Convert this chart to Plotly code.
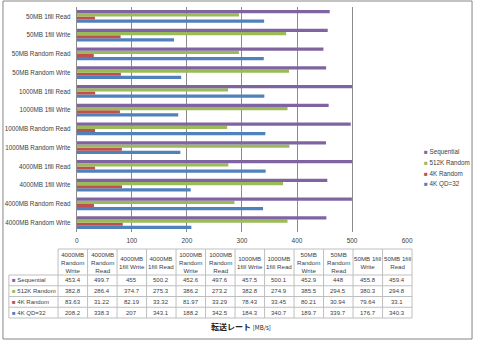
import plotly.graph_objects as go

# Benchmark scenarios, in table order (first one is drawn at the bottom)
categories = [
    "4000MB Random Write", "4000MB Random Read", "4000MB 1fill Write", "4000MB 1fill Read",
    "1000MB Random Write", "1000MB Random Read", "1000MB 1fill Write", "1000MB 1fill Read",
    "50MB Random Write", "50MB Random Read", "50MB 1fill Write", "50MB 1fill Read",
]
header_labels = [
    "4000MB<br>Random<br>Write", "4000MB<br>Random<br>Read", "4000MB<br>1fill Write", "4000MB<br>1fill Read",
    "1000MB<br>Random<br>Write", "1000MB<br>Random<br>Read", "1000MB<br>1fill Write", "1000MB<br>1fill Read",
    "50MB<br>Random<br>Write", "50MB<br>Random<br>Read", "50MB 1fill<br>Write", "50MB 1fill<br>Read",
]

sequential = [453.4, 499.7, 455, 500.2, 452.6, 497.6, 457.5, 500.1, 452.9, 448, 455.8, 459.4]
random_512k = [382.8, 286.4, 374.7, 275.3, 386.2, 273.2, 382.8, 274.9, 385.5, 294.5, 380.3, 294.8]
random_4k = [83.63, 31.22, 82.19, 33.32, 81.97, 33.29, 78.43, 33.45, 80.21, 30.94, 79.64, 33.1]
random_4k_qd32 = [208.2, 338.3, 207, 343.1, 188.2, 342.5, 184.3, 340.7, 189.7, 339.7, 176.7, 340.3]

series_names = ["Sequential", "512K Random", "4K Random", "4K QD=32"]
series_values = [sequential, random_512k, random_4k, random_4k_qd32]
series_colors = ["#8064A2", "#9BBB59", "#C0504D", "#4F81BD"]

x_ticks = [0, 100, 200, 300, 400, 500, 600]

W, H = 480, 341
TEXT = "#404040"
GRID = "#8C8C8C"
FONT = "Liberation Sans"


def px(x):
    return x / W


def py(y):
    return 1 - y / H


fig = go.Figure()

# bars: last series first so Sequential sits on top in every group
for name, vals, col in reversed(list(zip(series_names, series_values, series_colors))):
    fig.add_trace(go.Bar(
        y=categories, x=vals, name=name, orientation="h",
        marker=dict(color=col, line=dict(width=0)),
        showlegend=False,
    ))

fig.update_layout(
    width=W, height=H,
    margin=dict(l=0, r=0, t=0, b=0),
    paper_bgcolor="white", plot_bgcolor="white",
    barmode="group", bargap=0.33, bargroupgap=0,
    font=dict(family=FONT, size=6.3, color=TEXT),
    xaxis=dict(
        domain=[px(76), px(412)], range=[0, 600],
        tickvals=x_ticks, ticktext=[str(t) for t in x_ticks],
        showgrid=True, gridcolor=GRID, gridwidth=1,
        zeroline=False, showline=False,
        ticks="outside", ticklen=2, tickcolor="rgba(0,0,0,0)",
        tickfont=dict(size=6.5, color=TEXT),
    ),
    yaxis=dict(
        domain=[py(232), py(7)],
        type="category", categoryorder="array", categoryarray=categories,
        showgrid=False, zeroline=False,
        showline=True, linecolor=GRID, linewidth=1,
        ticks="outside", ticklen=4, tickcolor="rgba(0,0,0,0)",
        tickfont=dict(size=6.3, color=TEXT),
    ),
)

shapes = []
annotations = []

# outer chart frame
shapes.append(dict(type="rect", xref="paper", yref="paper",
                   x0=px(1), x1=px(478), y0=py(339), y1=py(1),
                   line=dict(color="#868686", width=1)))

# data table under the chart
KEY_X0, COL_X0, COL_W = 7, 57, 30
HEAD_TOP, HEAD_BOT, ROW_H = 249, 275, 10.75
n_cols = len(categories)
table_right = COL_X0 + COL_W * n_cols
table_bottom = HEAD_BOT + ROW_H * len(series_names)
LINE = "#BFBFBF"

shapes.append(dict(type="line", xref="paper", yref="paper",
                   x0=px(COL_X0), x1=px(table_right), y0=py(HEAD_TOP), y1=py(HEAD_TOP),
                   line=dict(color=LINE, width=1)))
for r in range(len(series_names) + 1):
    yy = HEAD_BOT + ROW_H * r
    shapes.append(dict(type="line", xref="paper", yref="paper",
                       x0=px(KEY_X0), x1=px(table_right), y0=py(yy), y1=py(yy),
                       line=dict(color=LINE, width=1)))
shapes.append(dict(type="line", xref="paper", yref="paper",
                   x0=px(KEY_X0), x1=px(KEY_X0), y0=py(HEAD_BOT), y1=py(table_bottom),
                   line=dict(color=LINE, width=1)))
for c in range(n_cols + 1):
    xx = COL_X0 + COL_W * c
    shapes.append(dict(type="line", xref="paper", yref="paper",
                       x0=px(xx), x1=px(xx), y0=py(HEAD_TOP), y1=py(table_bottom),
                       line=dict(color=LINE, width=1)))

for c, lab in enumerate(header_labels):
    annotations.append(dict(
        xref="paper", yref="paper", x=px(COL_X0 + COL_W * (c + 0.5)), y=py((HEAD_TOP + HEAD_BOT) / 2 + 0.5),
        text=lab, showarrow=False, xanchor="center", yanchor="middle",
        font=dict(size=6.2, color=TEXT, family=FONT), align="center",
    ))

for r, (name, vals, col) in enumerate(zip(series_names, series_values, series_colors)):
    yc = HEAD_BOT + ROW_H * (r + 0.5)
    annotations.append(dict(
        xref="paper", yref="paper", x=px(KEY_X0 + 1), y=py(yc),
        text=f"<span style='color:{col}'>■</span> {name}", showarrow=False,
        xanchor="left", yanchor="middle",
        font=dict(size=6, color=TEXT, family=FONT),
    ))
    for c, v in enumerate(vals):
        annotations.append(dict(
            xref="paper", yref="paper", x=px(COL_X0 + COL_W * (c + 0.5)), y=py(yc),
            text=f"{v:g}", showarrow=False, xanchor="center", yanchor="middle",
            font=dict(size=6, color=TEXT, family=FONT),
        ))

# legend to the right of the plot
for i, (name, col) in enumerate(zip(series_names, series_colors)):
    annotations.append(dict(
        xref="paper", yref="paper", x=px(427), y=py(152 + 10.7 * i),
        text=f"<span style='color:{col}'>■</span> {name}", showarrow=False,
        xanchor="left", yanchor="middle",
        font=dict(size=6.3, color=TEXT, family=FONT),
    ))

# value axis title
annotations.append(dict(
    xref="paper", yref="paper", x=px(243), y=py(326),
    text="<b>転送レート</b> <span style='font-size:6px'>[MB/s]</span>",
    showarrow=False, xanchor="center", yanchor="middle",
    font=dict(size=8, color="#222222", family="Noto Sans CJK JP"),
))

fig.update_layout(shapes=shapes, annotations=annotations)

fig.write_html("out.html")
